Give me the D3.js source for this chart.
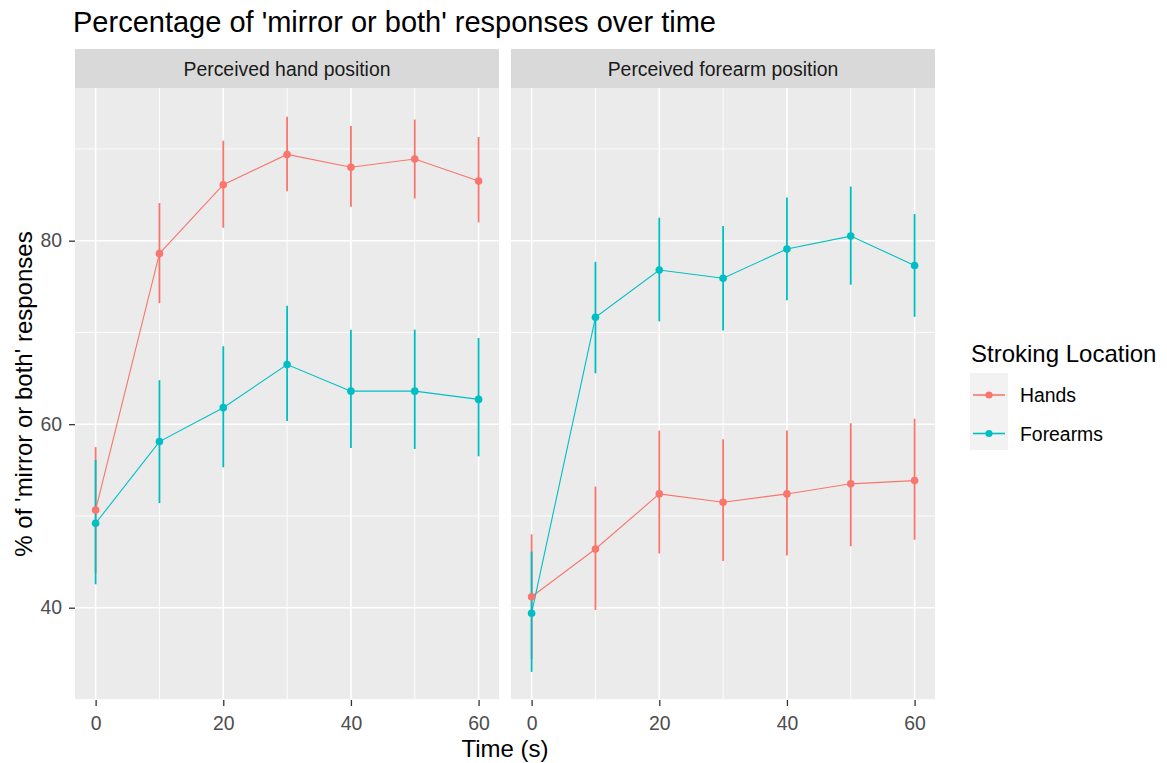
<!DOCTYPE html>
<html><head><meta charset="utf-8">
<script src="https://cdn.jsdelivr.net/npm/d3@7"></script>
<style>body{margin:0;background:#fff;} svg{display:block;font-family:"Liberation Sans",Arial,sans-serif;}</style>
</head><body>
<script>
const times = [0, 10, 20, 30, 40, 50, 60];
const panelNames = ["Perceived hand position", "Perceived forearm position"];
const seriesNames = ["Hands", "Forearms"];
const seriesColors = ["#F8766D", "#00BFC4"];
const yTicks = [40, 60, 80];
const yMinor = [30, 50, 70, 90];
const xTicks = [0, 20, 40, 60];
const xMinor = [10, 30, 50];

// Perceived hand position
const handPosHandsMean = [50.65, 78.6, 86.1, 89.4, 88.0, 88.9, 86.5];
const handPosHandsLow  = [43.8, 73.2, 81.4, 85.4, 83.7, 84.6, 82.0];
const handPosHandsHigh = [57.5, 84.1, 90.9, 93.5, 92.5, 93.2, 91.3];
const handPosForeMean  = [49.2, 58.1, 61.8, 66.5, 63.6, 63.6, 62.7];
const handPosForeLow   = [42.55, 51.4, 55.3, 60.35, 57.4, 57.3, 56.5];
const handPosForeHigh  = [56.1, 64.8, 68.5, 72.9, 70.3, 70.3, 69.4];
// Perceived forearm position
const forePosHandsMean = [41.2, 46.4, 52.4, 51.5, 52.4, 53.5, 53.85];
const forePosHandsLow  = [34.4, 39.75, 45.9, 45.1, 45.7, 46.7, 47.4];
const forePosHandsHigh = [48.0, 53.2, 59.3, 58.35, 59.3, 60.1, 60.6];
const forePosForeMean  = [39.4, 71.65, 76.8, 75.9, 79.1, 80.5, 77.3];
const forePosForeLow   = [33.0, 65.55, 71.2, 70.2, 73.5, 75.2, 71.7];
const forePosForeHigh  = [46.1, 77.7, 82.5, 81.6, 84.7, 85.9, 82.9];

const panelData = [
  [ {mean: handPosHandsMean, low: handPosHandsLow, high: handPosHandsHigh},
    {mean: handPosForeMean, low: handPosForeLow, high: handPosForeHigh} ],
  [ {mean: forePosHandsMean, low: forePosHandsLow, high: forePosHandsHigh},
    {mean: forePosForeMean, low: forePosForeLow, high: forePosForeHigh} ]
];

const W = 1167, H = 763;
const FONT = "Liberation Sans, Arial, sans-serif";
const svg = d3.select("body").append("svg").attr("width", W).attr("height", H);
svg.append("rect").attr("width", W).attr("height", H).attr("fill", "#fff");

const panelTop = 88, panelBottom = 700, stripTop = 49;
const panelX = [[75, 499], [511, 935]];
const y = d3.scaleLinear().domain([29.94, 96.64]).range([panelBottom, panelTop]);

// title
svg.append("text").attr("x", 73).attr("y", 32).attr("font-size", 29)
  .attr("fill", "#000").text("Percentage of 'mirror or both' responses over time");

panelX.forEach((px, pi) => {
  const x = d3.scaleLinear().domain([-3.23, 63.2]).range(px);
  const g = svg.append("g");
  // strip
  g.append("rect").attr("x", px[0]).attr("y", stripTop).attr("width", px[1] - px[0])
    .attr("height", panelTop - stripTop).attr("fill", "#D9D9D9");
  g.append("text").attr("x", (px[0] + px[1]) / 2).attr("y", 76)
    .attr("text-anchor", "middle").attr("font-size", 19.4).attr("fill", "#1A1A1A").text(panelNames[pi]);
  // panel bg
  g.append("rect").attr("x", px[0]).attr("y", panelTop).attr("width", px[1] - px[0])
    .attr("height", panelBottom - panelTop).attr("fill", "#EBEBEB");
  // minor grid
  yMinor.filter(v => y(v) >= panelTop && y(v) <= panelBottom).forEach(v => {
    g.append("line").attr("x1", px[0]).attr("x2", px[1]).attr("y1", y(v)).attr("y2", y(v))
      .attr("stroke", "#fff").attr("stroke-width", 0.9);
  });
  xMinor.forEach(v => {
    g.append("line").attr("x1", x(v)).attr("x2", x(v)).attr("y1", panelTop).attr("y2", panelBottom)
      .attr("stroke", "#fff").attr("stroke-width", 0.9);
  });
  // major grid
  yTicks.forEach(v => {
    g.append("line").attr("x1", px[0]).attr("x2", px[1]).attr("y1", y(v)).attr("y2", y(v))
      .attr("stroke", "#fff").attr("stroke-width", 1.6);
  });
  xTicks.forEach(v => {
    g.append("line").attr("x1", x(v)).attr("x2", x(v)).attr("y1", panelTop).attr("y2", panelBottom)
      .attr("stroke", "#fff").attr("stroke-width", 1.6);
  });
  // x axis
  const xa = g.append("g").attr("transform", `translate(0,${panelBottom})`)
    .call(d3.axisBottom(x).tickValues(xTicks).tickSize(6).tickPadding(10).tickFormat(d3.format("d")));
  xa.select(".domain").remove();
  xa.selectAll("line").attr("stroke", "#333").attr("stroke-width", 1.3);
  xa.selectAll("text").attr("font-size", 19.4).attr("fill", "#4D4D4D").attr("font-family", FONT);
  if (pi === 0) {
    const ya = g.append("g").attr("transform", `translate(${px[0]},0)`)
      .call(d3.axisLeft(y).tickValues(yTicks).tickSize(6).tickPadding(7).tickFormat(d3.format("d")));
    ya.select(".domain").remove();
    ya.selectAll("line").attr("stroke", "#333").attr("stroke-width", 1.3);
    ya.selectAll("text").attr("font-size", 19.4).attr("fill", "#4D4D4D").attr("font-family", FONT);
  }
  const series = panelData[pi];
  // error bars
  series.forEach((s, si) => {
    times.forEach((t, i) => {
      g.append("line").attr("x1", x(t)).attr("x2", x(t)).attr("y1", y(s.low[i])).attr("y2", y(s.high[i]))
        .attr("stroke", seriesColors[si]).attr("stroke-width", 1.8);
    });
  });
  // lines
  const line = d3.line().x((d, i) => x(times[i])).y(d => y(d));
  series.forEach((s, si) => {
    g.append("path").attr("d", line(s.mean)).attr("fill", "none")
      .attr("stroke", seriesColors[si]).attr("stroke-width", 1.1);
  });
  // points
  series.forEach((s, si) => {
    times.forEach((t, i) => {
      g.append("circle").attr("cx", x(t)).attr("cy", y(s.mean[i])).attr("r", 3.8)
        .attr("fill", seriesColors[si]);
    });
  });
});

// axis titles
svg.append("text").attr("x", 505).attr("y", 757).attr("text-anchor", "middle")
  .attr("font-size", 24).attr("fill", "#000").text("Time (s)");
svg.append("text").attr("transform", `translate(32,${(panelTop + panelBottom) / 2}) rotate(-90)`)
  .attr("text-anchor", "middle").attr("font-size", 24).attr("fill", "#000")
  .text("% of 'mirror or both' responses");

// legend
const lg = svg.append("g");
lg.append("text").attr("x", 971).attr("y", 362).attr("font-size", 24).attr("fill", "#000").text("Stroking Location");
lg.append("rect").attr("x", 970).attr("y", 373).attr("width", 38).attr("height", 77).attr("fill", "#F2F2F2");
seriesNames.forEach((n, i) => {
  const cy = 395 + i * 38.5;
  lg.append("line").attr("x1", 973).attr("x2", 1005).attr("y1", cy).attr("y2", cy)
    .attr("stroke", seriesColors[i]).attr("stroke-width", 1.6);
  lg.append("circle").attr("cx", 989).attr("cy", cy).attr("r", 3.6).attr("fill", seriesColors[i]);
  lg.append("text").attr("x", 1020).attr("y", cy + 7).attr("font-size", 19.4).attr("fill", "#000").text(n);
});
</script>
</body></html>
